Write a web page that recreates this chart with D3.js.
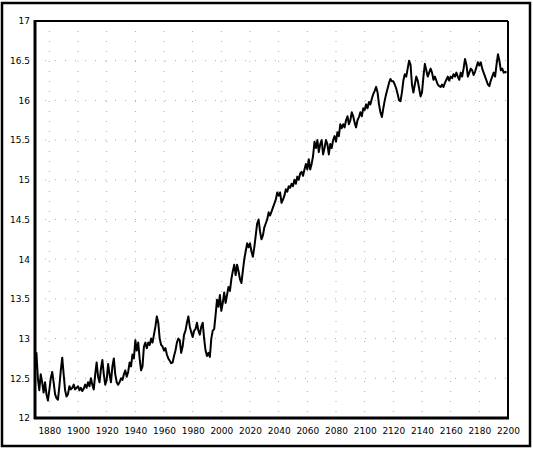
<!DOCTYPE html>
<html>
<head>
<meta charset="utf-8">
<script src="https://cdn.jsdelivr.net/npm/d3@7"></script>
<style>
  body { margin: 0; background: #fff; }
  .tick text { font-family: "DejaVu Sans", sans-serif; font-size: 9px; fill: #000; }
</style>
</head>
<body>
<div id="container"></div>
<script>
// yearly values, first one is 1870
var firstYear = 1870;
var temps = [
  12.6, 12.82, 12.5, 12.35, 12.55, 12.45, 12.32, 12.45, 12.3, 12.22,
  12.35, 12.5, 12.58, 12.45, 12.3, 12.25, 12.23, 12.4, 12.6, 12.76,
  12.55, 12.35, 12.27, 12.3, 12.4, 12.36, 12.38, 12.42, 12.36, 12.38,
  12.4, 12.35, 12.38, 12.34, 12.37, 12.42, 12.38, 12.45, 12.4, 12.5,
  12.42, 12.36, 12.55, 12.7, 12.52, 12.45, 12.62, 12.73, 12.55, 12.42,
  12.48, 12.68, 12.55, 12.45, 12.65, 12.75, 12.55, 12.45, 12.42, 12.45,
  12.5, 12.48, 12.55, 12.6, 12.52, 12.58, 12.7, 12.65, 12.8, 12.75,
  12.98, 12.85, 12.95, 12.75, 12.6, 12.65, 12.9, 12.95, 12.88, 12.95,
  12.92, 13.0, 12.95, 13.05, 13.15, 13.28, 13.2, 13.0, 12.92, 12.9,
  12.85, 12.88, 12.8, 12.75, 12.72, 12.69, 12.7, 12.78, 12.85, 12.95,
  13.0, 12.98, 12.82, 12.9, 13.05, 13.1, 13.2, 13.28, 13.15, 13.08,
  13.02, 13.1, 13.12, 13.2, 13.1, 13.05, 13.15, 13.2, 13.0, 12.85,
  12.78, 12.82, 12.77, 13.0, 13.1, 13.12, 13.3, 13.49, 13.4, 13.55,
  13.35, 13.45, 13.58, 13.45, 13.55, 13.65, 13.6, 13.75, 13.85, 13.93,
  13.8, 13.93, 13.85, 13.75, 13.7, 13.85, 14.0, 14.1, 14.2, 14.15,
  14.2, 14.1, 14.03, 14.15, 14.3, 14.45, 14.5, 14.35, 14.25, 14.3,
  14.4, 14.45, 14.5, 14.59, 14.55, 14.6, 14.65, 14.7, 14.75, 14.84,
  14.8, 14.84, 14.71, 14.75, 14.8, 14.88, 14.85, 14.92, 14.9, 14.95,
  14.92, 15.0, 14.95, 15.04, 15.0, 15.08, 15.1, 15.05, 15.13, 15.2,
  15.13, 15.26, 15.13, 15.2, 15.3, 15.48, 15.4, 15.5, 15.35, 15.45,
  15.5, 15.32, 15.4, 15.5, 15.45, 15.32, 15.45, 15.4, 15.5, 15.55,
  15.48, 15.6, 15.55, 15.7, 15.65, 15.7, 15.66, 15.75, 15.8, 15.7,
  15.75, 15.85, 15.8, 15.72, 15.66, 15.75, 15.79, 15.85, 15.8, 15.9,
  15.88, 15.95, 15.9, 15.98, 15.95, 16.02, 16.08, 16.12, 16.17, 16.1,
  15.95, 15.85, 15.79, 15.9, 16.0, 16.08, 16.15, 16.22, 16.27, 16.24,
  16.24, 16.2, 16.15, 16.08, 16.0, 15.99, 16.1, 16.25, 16.33, 16.3,
  16.4, 16.5, 16.45, 16.2, 16.1, 16.2, 16.3, 16.25, 16.15, 16.05,
  16.1, 16.3, 16.46, 16.38, 16.3, 16.35, 16.4, 16.35, 16.26, 16.3,
  16.25, 16.2, 16.18, 16.17, 16.2, 16.17, 16.22, 16.26, 16.3, 16.25,
  16.3, 16.28, 16.33, 16.3, 16.35, 16.3, 16.26, 16.35, 16.3, 16.4,
  16.52, 16.45, 16.3, 16.35, 16.4, 16.38, 16.32, 16.36, 16.42, 16.48,
  16.44, 16.48, 16.4, 16.35, 16.3, 16.25, 16.2, 16.18, 16.25, 16.3,
  16.35, 16.3, 16.45, 16.58, 16.5, 16.38, 16.4, 16.35, 16.36, 16.35
];

var xTicks = [1880, 1900, 1920, 1940, 1960, 1980, 2000, 2020, 2040, 2060, 2080, 2100, 2120, 2140, 2160, 2180, 2200];
var yTicks = [12, 12.5, 13, 13.5, 14, 14.5, 15, 15.5, 16, 16.5, 17];

var width = 533,
    height = 449;
var plotLeft = 35, plotRight = 508, plotTop = 21, plotBottom = 418;

var svg = d3.select('#container').append('svg')
    .attr('width', width)
    .attr('height', height);

var x = d3.scaleLinear().domain([1870, 2200]).range([plotLeft, plotRight]);
var y = d3.scaleLinear().domain([12, 17]).range([plotBottom, plotTop]);

// outer border of the figure
svg.append('rect')
    .attr('x', 2).attr('y', 3)
    .attr('width', 528).attr('height', 443)
    .attr('fill', 'none')
    .attr('stroke', '#000')
    .attr('stroke-width', 2.5);

// faint dotted grid
var grid = svg.append('g').attr('class', 'grid');
grid.selectAll('line.v')
    .data(xTicks.slice(0, -1))
    .enter().append('line')
    .attr('class', 'v')
    .attr('x1', function(d) { return x(d); })
    .attr('x2', function(d) { return x(d); })
    .attr('y1', plotTop)
    .attr('y2', plotBottom)
    .attr('stroke', '#aaa')
    .attr('stroke-width', 1)
    .attr('stroke-dasharray', '1,9');
grid.selectAll('line.h')
    .data(yTicks.slice(1, -1))
    .enter().append('line')
    .attr('class', 'h')
    .attr('x1', plotLeft)
    .attr('x2', plotRight)
    .attr('y1', function(d) { return y(d); })
    .attr('y2', function(d) { return y(d); })
    .attr('stroke', '#aaa')
    .attr('stroke-width', 1)
    .attr('stroke-dasharray', '1,9');

// axes, labels only
var xAxis = d3.axisBottom(x).tickValues(xTicks).tickSize(0).tickPadding(10)
    .tickFormat(d3.format('d'));
svg.append('g')
    .attr('transform', 'translate(0,' + plotBottom + ')')
    .call(xAxis)
    .call(function(g) { g.select('.domain').remove(); });

var yAxis = d3.axisLeft(y).tickValues(yTicks).tickSize(0).tickPadding(5)
    .tickFormat(function(d) { return d % 1 === 0 ? d : d.toFixed(1); });
svg.append('g')
    .attr('transform', 'translate(' + plotLeft + ',0)')
    .call(yAxis)
    .call(function(g) { g.select('.domain').remove(); });

// the series
var line = d3.line()
    .x(function(d, i) { return x(firstYear + i); })
    .y(function(d) { return y(d); });

svg.append('path')
    .datum(temps)
    .attr('d', line)
    .attr('fill', 'none')
    .attr('stroke', '#000')
    .attr('stroke-width', 2)
    .attr('stroke-linejoin', 'round');

// plot frame: heavier left and bottom
svg.append('line').attr('x1', plotLeft).attr('x2', plotRight).attr('y1', plotTop).attr('y2', plotTop)
    .attr('stroke', '#000').attr('stroke-width', 2);
svg.append('line').attr('x1', plotRight).attr('x2', plotRight).attr('y1', plotTop).attr('y2', plotBottom)
    .attr('stroke', '#000').attr('stroke-width', 2);
svg.append('line').attr('x1', plotLeft).attr('x2', plotLeft).attr('y1', plotTop - 1).attr('y2', plotBottom + 1)
    .attr('stroke', '#000').attr('stroke-width', 3);
svg.append('line').attr('x1', plotLeft - 1).attr('x2', plotRight + 1).attr('y1', plotBottom).attr('y2', plotBottom)
    .attr('stroke', '#000').attr('stroke-width', 3);
</script>
</body>
</html>
